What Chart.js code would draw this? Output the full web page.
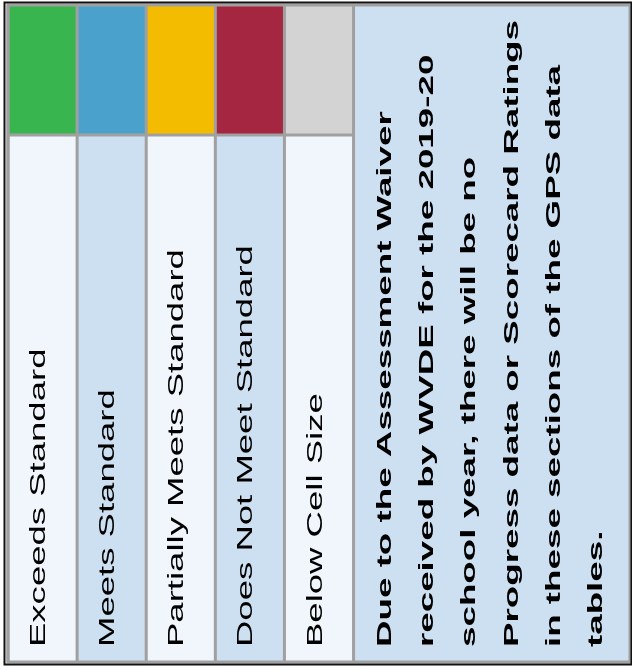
<!DOCTYPE html>
<html><head><meta charset="utf-8">
<script src="https://cdn.jsdelivr.net/npm/chart.js@4/dist/chart.umd.min.js"></script>
<style>html,body{margin:0;padding:0;background:#fff;overflow:hidden}canvas{display:block}</style>
</head><body>
<canvas id="c" width="632" height="671"></canvas>
<script>
// ---- data ----
const categories = ['Exceeds Standard', 'Meets Standard', 'Partially Meets Standard', 'Does Not Meet Standard', 'Below Cell Size'];
const swatchColors = ['#39B550', '#4AA1CB', '#F4BC00', '#A52640', '#D3D3D4'];
const labelFills = ['#F0F6FB', '#CCE0F1', '#F0F6FB', '#CCE0F1', '#F0F6FB'];
const noteLines = [
  'Due to the Assessment Waiver',
  'received by WVDE for the 2019-20',
  'school year, there will be no',
  'Progress data or Scorecard Ratings',
  'in these sections of the GPS data',
  'tables.'
];
const noteFill = '#CCE0F1';

// ---- layout (in scale units) ----
const NOTE_SPAN = 4;                 // note column spans 4 legend-column widths
const X_MAX = categories.length + NOTE_SPAN;
const SWATCH_ROW = 1;                // swatch row height
const Y_MAX = 5.054;                 // swatch row + label row

const tablePlugin = {
  id: 'legendTable',
  afterDraw(chart) {
    const ctx = chart.ctx, xs = chart.scales.x, ys = chart.scales.y;
    const X = v => xs.getPixelForValue(v), Y = v => ys.getPixelForValue(v);
    const top = Y(0), mid = Y(SWATCH_ROW), bot = Y(Y_MAX);
    ctx.save();
    // cells
    categories.forEach((c, i) => {
      const l = X(i), r = X(i + 1);
      ctx.fillStyle = swatchColors[i];
      ctx.fillRect(l, top, r - l, mid - top);
      ctx.fillStyle = labelFills[i];
      ctx.fillRect(l, mid, r - l, bot - mid);
    });
    const nl = X(categories.length), nr = X(X_MAX);
    ctx.fillStyle = noteFill;
    ctx.fillRect(nl, top, nr - nl, bot - top);

    // labels (rotated, stretched along the text direction)
    ctx.fillStyle = '#000';
    ctx.textBaseline = 'alphabetic';
    ctx.textAlign = 'left';
    categories.forEach((c, i) => {
      const cx = (X(i) + X(i + 1)) / 2;
      ctx.save();
      ctx.translate(cx + 2.5, bot - 15);
      ctx.rotate(-Math.PI / 2);
      ctx.scale(1.66, 1);
      ctx.font = '22px "Liberation Sans", Arial, sans-serif';
      ctx.fillText(c, 0, 0);
      ctx.restore();
    });
    noteLines.forEach((t, k) => {
      ctx.save();
      ctx.translate(nl + 37.5 + k * 42.2, bot - 15);
      ctx.rotate(-Math.PI / 2);
      ctx.scale(1.75, 1);
      ctx.font = 'bold 21px "Liberation Sans", Arial, sans-serif';
      ctx.fillText(t, 0, 0);
      ctx.restore();
    });

    // grid lines
    ctx.strokeStyle = '#A0A0A0';
    ctx.lineWidth = 3;
    ctx.beginPath();
    for (let i = 0; i <= categories.length; i++) {
      ctx.moveTo(X(i), top); ctx.lineTo(X(i), bot);
    }
    ctx.moveTo(X(0), mid); ctx.lineTo(nl, mid);
    ctx.stroke();
    ctx.strokeRect(X(0), top, nr - X(0), bot - top);

    // outer frame
    ctx.strokeStyle = '#111';
    ctx.lineWidth = 2;
    ctx.strokeRect(X(0) - 3.5, top - 2.5, nr - X(0) + 5, bot - top + 5);
    ctx.restore();
  }
};

new Chart(document.getElementById('c'), {
  type: 'scatter',
  data: { labels: categories, datasets: [] },
  options: {
    responsive: false,
    animation: false,
    devicePixelRatio: 1,
    layout: { padding: { left: 8, top: 5, right: 2, bottom: 9 } },
    plugins: { legend: { display: false }, tooltip: { enabled: false } },
    scales: {
      x: { type: 'linear', min: 0, max: X_MAX, display: false },
      y: { type: 'linear', min: 0, max: Y_MAX, reverse: true, display: false }
    }
  },
  plugins: [tablePlugin]
});
</script>
</body></html>
